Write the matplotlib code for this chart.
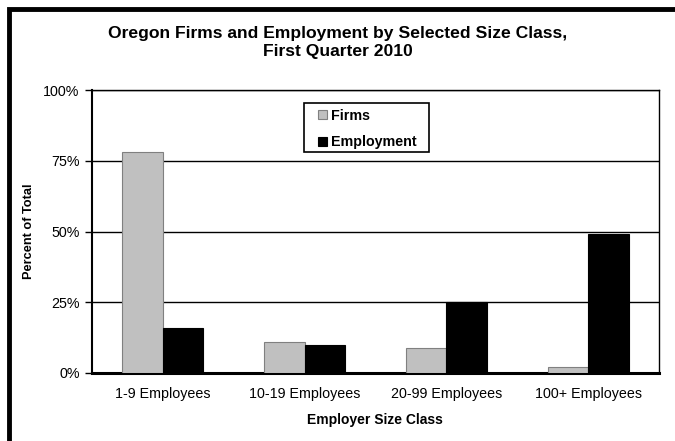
import matplotlib
matplotlib.use("Agg")
import matplotlib.pyplot as plt
import matplotlib.ticker as ticker
from matplotlib.patches import Rectangle
import numpy as np

categories = ["1-9 Employees", "10-19 Employees", "20-99 Employees", "100+ Employees"]
firms = [78, 11, 9, 2]
employment = [16, 10, 25, 49]
y_ticks = [0, 25, 50, 75, 100]

plt.rcParams["font.family"] = ["Liberation Sans", "DejaVu Sans"]

fig = plt.figure(figsize=(6.75, 4.41), dpi=100)
ax = fig.add_axes([92 / 675, 68 / 441, 567 / 675, 283 / 441])

x = np.arange(len(categories))
w = 0.285
ax.bar(x - w / 2, firms, w, color="#c0c0c0", edgecolor="#808080", linewidth=0.8,
       label="Firms", zorder=3)
ax.bar(x + w / 2, employment, w, color="#000000", edgecolor="#000000", linewidth=0.8,
       label="Employment", zorder=3)

ax.set_xlim(-0.5, len(categories) - 0.5)
ax.set_ylim(0, 100)
ax.set_yticks(y_ticks)
ax.yaxis.set_major_formatter(ticker.FuncFormatter(lambda v, p: f"{v:.0f}%"))
ax.set_xticks(x)
ax.set_xticklabels(categories)
ax.tick_params(axis="x", length=0, pad=10, labelsize=10.3)
ax.tick_params(axis="y", length=5, width=1, pad=4, labelsize=10.3, direction="out")
ax.yaxis.grid(True, color="black", linewidth=1, zorder=1)

for s in ax.spines.values():
    s.set_linewidth(1)
ax.spines["bottom"].set_linewidth(2.2)
ax.spines["left"].set_linewidth(1.5)

fig.text(375 / 675, 1 - 420 / 441, "Employer Size Class", ha="center", va="center",
         fontsize=10, fontweight="bold")
fig.text(29 / 675, 1 - 231 / 441, "Percent of Total", ha="center", va="center",
         rotation=90, fontsize=9.2, fontweight="bold")

# legend box drawn by hand so the padding can match the original
ax.add_patch(Rectangle((0.374, 0.781), 0.22, 0.173, transform=ax.transAxes,
                       facecolor="white", edgecolor="black", linewidth=1.2, zorder=4))
leg = ax.legend(loc="center", bbox_to_anchor=(0.486, 0.862), frameon=False,
                handlelength=0.6, handleheight=0.6, handletextpad=0.3,
                labelspacing=0.85, borderpad=0, borderaxespad=0,
                prop={"weight": "bold", "size": 10.3})
leg.set_zorder(5)

fig.text(0.5, 0.903, "Oregon Firms and Employment by Selected Size Class,\nFirst Quarter 2010",
         ha="center", va="center", fontsize=12.6, fontweight="bold", linespacing=1.25)

# black frame round the whole chart, cut off at right and bottom
fig.patches.append(Rectangle((9 / 675, -0.1), 1.2, 1.1 - 9 / 441,
                             transform=fig.transFigure, fill=False,
                             edgecolor="black", linewidth=3.5))

fig.savefig("out.png", dpi=100)
